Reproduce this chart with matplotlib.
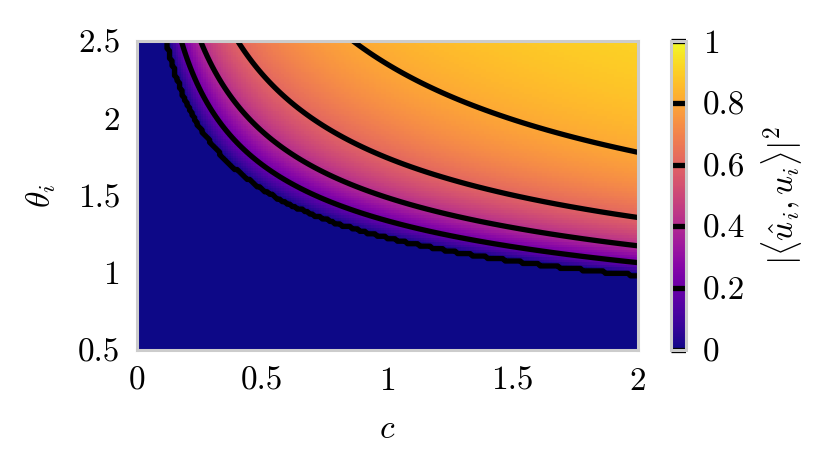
import numpy as np
import matplotlib
matplotlib.use("Agg")
import matplotlib.pyplot as plt
from matplotlib.ticker import FuncFormatter

# heteroscedastic noise: proportions and variances of the two groups
noise_props = np.array([0.8, 0.2])
noise_vars = np.array([0.8, 1.8])

c_grid = np.linspace(0.0, 2.0, 201)
theta_grid = np.linspace(0.5, 2.5, 126)
contour_levels = [0.0, 0.2, 0.4, 0.6, 0.8, 1.0]
x_ticks = [0, 0.5, 1, 1.5, 2]
y_ticks = [0.5, 1, 1.5, 2, 2.5]
cbar_ticks = [0, 0.2, 0.4, 0.6, 0.8, 1]


def recovery(c, theta):
    # asymptotic |<u_hat, u>|^2 from A(beta) / (beta B'(beta))
    ct2 = c * theta ** 2
    lo = np.full_like(ct2, noise_vars.max())
    hi = noise_vars.max() + ct2
    for _ in range(80):
        mid = 0.5 * (lo + hi)
        b = 1 - ct2 * sum(p / (mid - s) for p, s in zip(noise_props, noise_vars))
        neg = b < 0
        lo = np.where(neg, mid, lo)
        hi = np.where(neg, hi, mid)
    beta = 0.5 * (lo + hi)
    a = 1 - c * sum(p * s ** 2 / (beta - s) ** 2 for p, s in zip(noise_props, noise_vars))
    bprime = ct2 * sum(p / (beta - s) ** 2 for p, s in zip(noise_props, noise_vars))
    with np.errstate(divide="ignore", invalid="ignore"):
        r = a / (beta * bprime)
    r = np.where((a >= 0) & (c > 0), r, 0.0)
    return np.nan_to_num(r)


C, T = np.meshgrid(c_grid, theta_grid)
R = recovery(C, T)

plt.rcParams["font.family"] = "serif"
plt.rcParams["font.serif"] = ["cmr10"]
plt.rcParams["mathtext.fontset"] = "cm"
plt.rcParams["font.size"] = 24
plt.rcParams["axes.formatter.use_mathtext"] = True

fig = plt.figure(figsize=(8.3, 4.74), dpi=100)
ax = fig.add_axes([0.165, 0.2616, 0.6037, 0.6519])
cax = fig.add_axes([0.8084, 0.2616, 0.0181, 0.6519])

# antialiased quads leave the faint seams seen in the original
mesh = ax.pcolormesh(C, T, R, cmap="plasma", vmin=0, vmax=1, shading="auto",
                     antialiased=True, linewidth=0)
cs = ax.contour(C, T, R, levels=contour_levels, colors="k", linewidths=3.8)

fmt = FuncFormatter(lambda v, pos: "%g" % v)
ax.set_xlim(0, 2)
ax.set_ylim(0.5, 2.5)
ax.set_xticks(x_ticks)
ax.set_yticks(y_ticks)
ax.xaxis.set_major_formatter(fmt)
ax.yaxis.set_major_formatter(fmt)
ax.tick_params(length=0, pad=12)
ax.set_xlabel(r"$c$", labelpad=14)
ax.set_ylabel(r"$\theta_i$", labelpad=14)
for sp in ax.spines.values():
    sp.set_color("#cccccc")
    sp.set_linewidth(2.2)

cb = fig.colorbar(mesh, cax=cax)
cb.add_lines(cs)
cb.set_ticks(cbar_ticks)
cb.ax.yaxis.set_major_formatter(fmt)
cb.ax.tick_params(length=0, pad=12)
cb.outline.set_edgecolor("#cccccc")
cb.outline.set_linewidth(2.2)
cb.set_label(r"$|\langle \hat{u}_i, u_i \rangle|^2$", labelpad=10)

fig.savefig("out.png", dpi=100)
